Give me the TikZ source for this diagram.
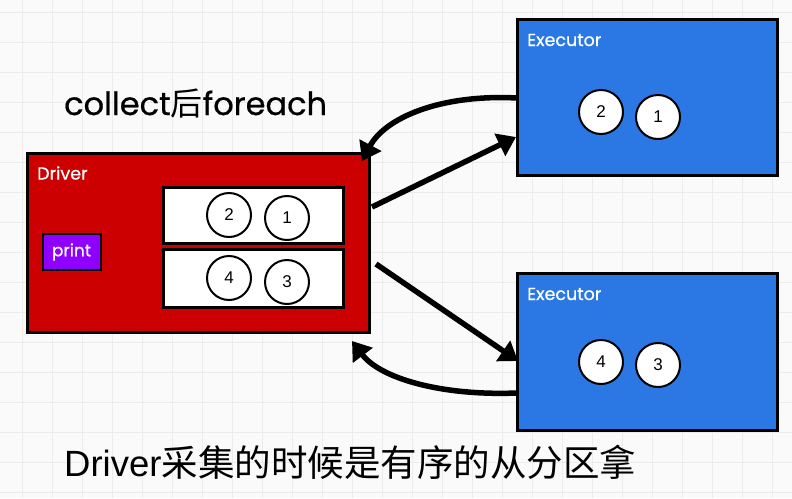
\documentclass[tikz,border=0pt]{standalone}
\usepackage{fontspec}
\setmainfont{Liberation Sans}
\newfontfamily\pop{Poppins}
\newfontfamily\popm[FakeBold=0.6]{Poppins}
\newfontfamily\cjk{Noto Sans CJK SC}
\usetikzlibrary{arrows.meta}
\definecolor{bg}{RGB}{250,250,250}
\definecolor{gridc}{RGB}{236,236,236}
\definecolor{drvred}{RGB}{204,0,0}
\definecolor{exblue}{RGB}{43,120,228}
\definecolor{prpl}{RGB}{143,0,255}
\tikzset{
  bigbox/.style={draw=black, line width=3pt, inner sep=0pt},
  slot/.style={draw=black, line width=3pt, fill=white, inner sep=0pt, minimum width=180pt, minimum height=56pt},
  ball/.style={circle, draw=black, line width=2pt, fill=white, minimum size=44pt, inner sep=0pt, font=\fontsize{17}{17}\selectfont},
  lbl/.style={anchor=west, text=white, inner sep=0pt, font=\popm\fontsize{17.5}{17.5}\selectfont},
  conn/.style={line width=5.5pt, -{Triangle[length=18pt,width=24pt]}},
}
\begin{document}
\begin{tikzpicture}[x=1pt,y=-1pt]
\fill[bg] (0,0) rectangle (792,498);
\useasboundingbox (0,0) rectangle (792,498);
\foreach \gx in {22,52,...,792} \draw[gridc, line width=1pt] (\gx,0) -- (\gx,498);
\foreach \gy in {12,42,...,498} \draw[gridc, line width=1pt] (0,\gy) -- (792,\gy);

% Driver
\node[bigbox, fill=drvred, minimum width=342pt, minimum height=179pt] (driver) at (198,242.5) {};
\node[lbl] (drvlbl) at (37,173) {Driver};
\node[slot] (slota) at (253,215) {};
\node[slot, minimum height=58pt] (slotb) at (253,278) {};
\node[ball] (d2) at (229,215) {2};
\node[ball] (d1) at (287,218) {1};
\node[ball] (d4) at (229,278) {4};
\node[ball] (d3) at (287,282) {3};
\node[draw=black, line width=2pt, fill=prpl, minimum width=58pt, minimum height=36pt, inner sep=0pt, text=white, font=\popm\fontsize{17}{17}\selectfont] (print) at (71.5,252) {print};

% Executors
\node[bigbox, fill=exblue, minimum width=260pt, minimum height=156pt] (exa) at (647,97) {};
\node[lbl] (exalbl) at (527,40) {Executor};
\node[ball] (a2) at (601,112) {2};
\node[ball] (a1) at (658,117) {1};

\node[bigbox, fill=exblue, minimum width=260pt, minimum height=157pt] (exb) at (647,351.5) {};
\node[lbl] (exblbl) at (527,294) {Executor};
\node[ball] (b4) at (601,362) {4};
\node[ball] (b3) at (658,365) {3};

% connector end points
\coordinate (pa1) at (517,98);
\coordinate (pa2) at (362,161);
\coordinate (pb1) at (372,207);
\coordinate (pb2) at (516,137);
\coordinate (pc1) at (376,264);
\coordinate (pc2) at (518,361);
\coordinate (pd1) at (517,393);
\coordinate (pd2) at (352,341);

\draw[conn] (pa1) .. controls (440,94) and (385,118) .. (pa2);
\draw[conn] (pb1) -- (pb2);
\draw[conn] (pc1) -- (pc2);
\draw[conn] (pd1) .. controls (440,396) and (380,378) .. (pd2);

% Texts
\node[anchor=west, inner sep=0pt, font=\popm\fontsize{32}{32}\selectfont] (title) at (64,103) {collect{\cjk 后}foreach};
\node[anchor=west, inner sep=0pt, font=\fontsize{36.5}{36.5}\selectfont] (caption) at (64,462) {Driver{\cjk 采集的时候是有序的从分区拿}};
\end{tikzpicture}
\end{document}
